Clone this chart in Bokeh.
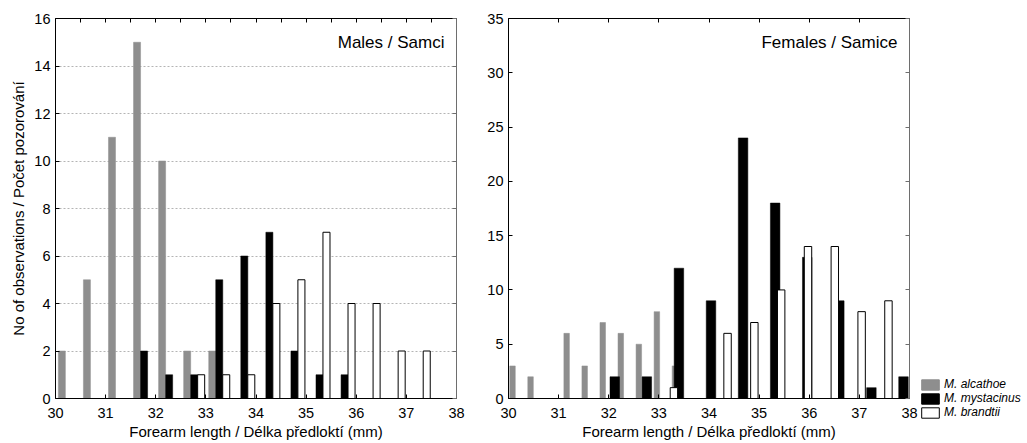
from bokeh.plotting import figure
from bokeh.layouts import row, column
from bokeh.models import Range1d, LinearAxis, FixedTicker, Label, Legend, LegendItem
from bokeh.embed import file_html
from bokeh.resources import INLINE

FONT = "Liberation Sans"
GRAY = "#8e8e8e"

# ---- Males (bins of 0.5 mm, lower edges) ----
male_bins = [30.0, 30.5, 31.0, 31.5, 32.0, 32.5, 33.0, 33.5,
             34.0, 34.5, 35.0, 35.5, 36.0, 36.5, 37.0, 37.5]
male_alcathoe = [2, 5, 11, 15, 10, 2, 2, 0, 0, 0, 0, 0, 0, 0, 0, 0]
male_mystacinus = [0, 0, 0, 2, 1, 1, 5, 6, 7, 2, 1, 1, 0, 0, 0, 0]
male_brandtii = [0, 0, 0, 0, 0, 1, 1, 1, 4, 5, 7, 4, 4, 2, 2, 0]

# ---- Females (each species binned separately; bin centres) ----
female_alcathoe_x = [30.08, 30.44, 30.80, 31.16, 31.52, 31.88, 32.24, 32.60, 32.96, 33.32]
female_alcathoe = [3, 2, 0, 6, 3, 7, 6, 5, 8, 3]
female_mystacinus_x = [32.12, 32.76, 33.40, 34.04, 34.68, 35.32, 35.96, 36.60, 37.24, 37.88]
female_mystacinus = [2, 2, 12, 9, 24, 18, 13, 9, 1, 2]
female_brandtii_x = [33.30, 33.835, 34.37, 34.905, 35.44, 35.975, 36.51, 37.045, 37.58]
female_brandtii = [1, 0, 6, 7, 10, 14, 14, 8, 9]

x_ticks = [30, 31, 32, 33, 34, 35, 36, 37, 38]
x_half_ticks = [30 + 0.5 * i for i in range(17)]
male_y_ticks = [0, 2, 4, 6, 8, 10, 12, 14, 16]
female_y_ticks = [0, 5, 10, 15, 20, 25, 30, 35]

species = ["M. alcathoe", "M. mystacinus", "M. brandtii"]
x_label = "Forearm length / Délka předloktí (mm)"
y_label = "No of observations / Počet pozorování"

H = 443


def style_axis(ax, ticks, labels=True, line_color="black"):
    ax.ticker = FixedTicker(ticks=ticks)
    ax.major_tick_in = 4
    ax.major_tick_out = 0
    ax.minor_tick_in = 0
    ax.minor_tick_out = 0
    ax.axis_line_color = line_color
    ax.major_tick_line_color = line_color
    ax.major_label_text_font = FONT
    ax.major_label_text_color = "black"
    ax.major_label_text_font_size = "14.5px"
    if labels:
        ax.major_label_standoff = 5
    else:
        ax.major_label_overrides = {t: "" for t in ticks}
        ax.major_label_standoff = 0
    ax.axis_label_text_font = FONT
    ax.axis_label_text_font_style = "normal"
    ax.axis_label_text_color = "black"
    ax.axis_label_text_font_size = "15px"


def make_fig(width, left, right, ymax):
    p = figure(width=width, height=H, output_backend="svg", toolbar_location=None,
               x_range=Range1d(30, 38), y_range=Range1d(0, ymax),
               min_border_left=left, min_border_right=right,
               min_border_top=18, min_border_bottom=45,
               background_fill_color="white", border_fill_color="white")
    p.outline_line_color = None
    p.xgrid.visible = False
    return p


# ---------------- Left: males ----------------
p1 = make_fig(478, 55, 22, 16)
style_axis(p1.xaxis[0], x_ticks)
style_axis(p1.yaxis[0], male_y_ticks)
p1.xaxis[0].axis_label = x_label
p1.xaxis[0].axis_label_standoff = 2
p1.xaxis[0].major_label_standoff = 9
p1.yaxis[0].axis_label = y_label
p1.yaxis[0].axis_label_standoff = 4
top1 = LinearAxis()
style_axis(top1, x_half_ticks, labels=False)
p1.add_layout(top1, "above")
right1 = LinearAxis()
style_axis(right1, male_y_ticks, labels=False, line_color="#6e6e6e")
p1.add_layout(right1, "right")
p1.ygrid.ticker = FixedTicker(ticks=male_y_ticks[1:-1])
p1.ygrid.grid_line_color = "#b4b4b4"
p1.ygrid.grid_line_dash = "2 2"
p1.ygrid.grid_line_width = 1

w = 0.14
p1.vbar(x=[b + 0.127 for b in male_bins], top=male_alcathoe, width=w, bottom=0,
        fill_color=GRAY, line_color=GRAY, line_width=0.5)
p1.vbar(x=[b + 0.267 for b in male_bins], top=male_mystacinus, width=w, bottom=0,
        fill_color="black", line_color="black", line_width=0.5)
p1.vbar(x=[b + 0.406 for b in male_bins], top=male_brandtii, width=w, bottom=0,
        fill_color="white", line_color="black", line_width=1)
p1.add_layout(Label(x=37.76, y=15.0, text="Males / Samci", text_align="right",
                    text_baseline="middle", text_font=FONT, text_font_size="17px",
                    text_color="black"))

# ---------------- Right: females ----------------
p2 = make_fig(441, 30, 10, 35)
style_axis(p2.xaxis[0], x_ticks)
style_axis(p2.yaxis[0], female_y_ticks)
p2.xaxis[0].axis_label = x_label
p2.xaxis[0].axis_label_standoff = 2
p2.xaxis[0].major_label_standoff = 9
p2.ygrid.visible = False
top2 = LinearAxis()
style_axis(top2, x_ticks, labels=False)
p2.add_layout(top2, "above")
right2 = LinearAxis()
style_axis(right2, female_y_ticks, labels=False, line_color="#6e6e6e")
p2.add_layout(right2, "right")

p2.vbar(x=female_alcathoe_x, top=female_alcathoe, width=0.11, bottom=0,
        fill_color=GRAY, line_color=GRAY, line_width=0.5)
p2.vbar(x=female_mystacinus_x, top=female_mystacinus, width=0.19, bottom=0,
        fill_color="black", line_color="black", line_width=0.5)
p2.vbar(x=female_brandtii_x, top=female_brandtii, width=0.148, bottom=0,
        fill_color="white", line_color="black", line_width=1)
p2.add_layout(Label(x=37.76, y=32.8, text="Females / Samice", text_align="right",
                    text_baseline="middle", text_font=FONT, text_font_size="17px",
                    text_color="black"))

# ---------------- Legend panel (outside the plots, bottom right) ----------------
p3 = figure(width=106, height=H, output_backend="svg", toolbar_location=None,
            x_axis_type=None, y_axis_type=None,
            x_range=Range1d(0, 1), y_range=Range1d(0, 1),
            min_border_left=0, min_border_right=0, min_border_top=0, min_border_bottom=0,
            background_fill_color="white", border_fill_color="white")
p3.outline_line_color = None
p3.grid.visible = False
# key renderers share the styling of the female bars; their single row lies off-canvas
k_a = p3.vbar(x=[-1], top=[0], width=0.1, fill_color=GRAY, line_color=GRAY)
k_m = p3.vbar(x=[-1], top=[0], width=0.1, fill_color="black", line_color="black")
k_b = p3.vbar(x=[-1], top=[0], width=0.1, fill_color="white", line_color="black", line_width=1)
legend = Legend(items=[LegendItem(label=species[0], renderers=[k_a]),
                       LegendItem(label=species[1], renderers=[k_m]),
                       LegendItem(label=species[2], renderers=[k_b])],
                location=(0, 24), padding=0, margin=0, spacing=0,
                glyph_width=22, glyph_height=13, label_height=12,
                label_standoff=3, border_line_color=None,
                background_fill_alpha=0)
legend.label_text_font = FONT
legend.label_text_font_style = "italic"
legend.label_text_font_size = "12px"
legend.label_text_color = "black"
p3.add_layout(legend, "center")

layout = row(p1, p2, column(p3))
open("out.html", "w").write(file_html(layout, INLINE))
